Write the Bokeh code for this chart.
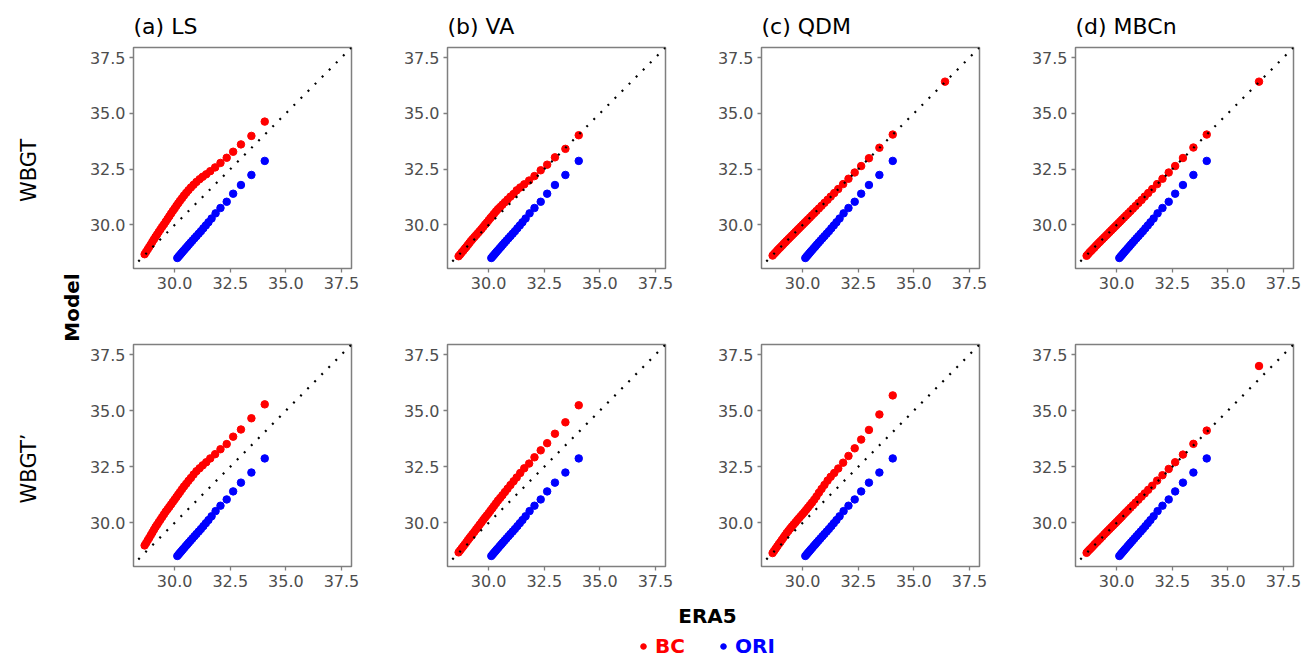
import math
from bokeh.plotting import figure
from bokeh.layouts import row, column
from bokeh.models import (Range1d, FixedTicker, PrintfTickFormatter, Slope, Label,
                          Legend, LegendItem)
from bokeh.embed import file_html
from bokeh.resources import INLINE

# ---------------- data ----------------
panel_titles = ["(a) LS", "(b) VA", "(c) QDM", "(d) MBCn"]
row_labels = ["WBGT", "WBGT\u2019"]
tick_values = [30.0, 32.5, 35.0, 37.5]

# ERA5 quantiles (x) used by the bias-corrected series
era5_bc = [28.65, 28.72, 28.79, 28.86, 28.93, 29.00, 29.07, 29.14, 29.21, 29.28,
           29.36, 29.44, 29.52, 29.60, 29.68, 29.76, 29.84, 29.92, 30.00, 30.08,
           30.16, 30.24, 30.33, 30.42, 30.52, 30.62, 30.73, 30.85, 30.98, 31.12,
           31.26, 31.42, 31.60, 31.82, 32.06, 32.34, 32.63, 32.98, 33.45, 34.05]
era5_ext = 36.40

# WBGT, bias corrected (BC)
bc_ls = [28.69, 28.80, 28.91, 29.02, 29.13, 29.25, 29.36, 29.47, 29.57, 29.68,
         29.80, 29.92, 30.03, 30.15, 30.27, 30.39, 30.51, 30.63, 30.74, 30.86,
         30.97, 31.08, 31.20, 31.32, 31.44, 31.56, 31.68, 31.80, 31.93, 32.05,
         32.16, 32.27, 32.41, 32.58, 32.78, 33.01, 33.28, 33.61, 33.99, 34.63]
bc_va = [28.60, 28.68, 28.77, 28.85, 28.94, 29.02, 29.11, 29.20, 29.29, 29.37,
         29.46, 29.55, 29.64, 29.73, 29.82, 29.92, 30.02, 30.11, 30.21, 30.31,
         30.40, 30.50, 30.61, 30.71, 30.81, 30.91, 31.02, 31.14, 31.27, 31.39,
         31.55, 31.68, 31.82, 31.99, 32.19, 32.45, 32.70, 33.03, 33.41, 34.02]
bc_qdm = [28.63, 28.71, 28.78, 28.86, 28.93, 29.00, 29.07, 29.15, 29.22, 29.29,
          29.37, 29.45, 29.53, 29.61, 29.69, 29.77, 29.85, 29.93, 30.01, 30.09,
          30.17, 30.25, 30.34, 30.43, 30.53, 30.63, 30.74, 30.86, 30.99, 31.13,
          31.27, 31.43, 31.61, 31.83, 32.07, 32.35, 32.64, 32.99, 33.46, 34.05]
bc_mbcn = [28.62, 28.70, 28.78, 28.85, 28.92, 28.99, 29.07, 29.14, 29.21, 29.28,
           29.36, 29.44, 29.52, 29.60, 29.68, 29.76, 29.84, 29.92, 30.00, 30.08,
           30.16, 30.24, 30.33, 30.42, 30.52, 30.62, 30.73, 30.85, 30.98, 31.12,
           31.27, 31.43, 31.61, 31.83, 32.07, 32.35, 32.64, 33.00, 33.47, 34.05]
bc_ext = [None, None, 36.42, 36.42]

# WBGT', bias corrected (BC)
bcp_ls = [28.99, 29.10, 29.22, 29.33, 29.45, 29.57, 29.69, 29.81, 29.91, 30.02,
          30.14, 30.26, 30.38, 30.50, 30.60, 30.71, 30.82, 30.93, 31.04, 31.15,
          31.26, 31.37, 31.50, 31.62, 31.74, 31.87, 32.00, 32.15, 32.30, 32.43,
          32.56, 32.70, 32.87, 33.06, 33.28, 33.51, 33.84, 34.16, 34.66, 35.28]
bcp_va = [28.68, 28.77, 28.86, 28.95, 29.04, 29.13, 29.23, 29.32, 29.41, 29.50,
          29.60, 29.71, 29.81, 29.92, 30.02, 30.13, 30.23, 30.33, 30.43, 30.54,
          30.64, 30.75, 30.87, 30.99, 31.11, 31.23, 31.37, 31.52, 31.68, 31.85,
          32.02, 32.22, 32.43, 32.64, 32.92, 33.23, 33.55, 33.97, 34.48, 35.24]
bcp_qdm = [28.65, 28.75, 28.85, 28.95, 29.05, 29.14, 29.24, 29.34, 29.44, 29.54,
           29.64, 29.74, 29.84, 29.93, 30.02, 30.12, 30.21, 30.30, 30.39, 30.48,
           30.58, 30.68, 30.79, 30.90, 31.03, 31.17, 31.34, 31.51, 31.69, 31.88,
           32.05, 32.22, 32.42, 32.68, 32.98, 33.32, 33.71, 34.14, 34.83, 35.68]
bcp_mbcn = [28.66, 28.74, 28.81, 28.88, 28.95, 29.03, 29.10, 29.17, 29.24, 29.31,
            29.39, 29.48, 29.56, 29.64, 29.72, 29.80, 29.88, 29.96, 30.04, 30.12,
            30.20, 30.28, 30.38, 30.47, 30.57, 30.67, 30.78, 30.90, 31.03, 31.17,
            31.31, 31.47, 31.65, 31.88, 32.12, 32.40, 32.70, 33.04, 33.52, 34.11]
bcp_ext = [None, None, None, 36.99]

# Original model (ORI), same in every panel
ori_x = [30.12, 30.18, 30.24, 30.30, 30.36, 30.43, 30.50, 30.57, 30.64, 30.72,
         30.80, 30.89, 30.98, 31.08, 31.18, 31.29, 31.40, 31.52, 31.66, 31.84,
         32.06, 32.34, 32.63, 32.98, 33.45, 34.05]
ori_y = [28.52, 28.59, 28.66, 28.73, 28.80, 28.88, 28.96, 29.04, 29.12, 29.21,
         29.30, 29.40, 29.50, 29.61, 29.72, 29.85, 29.98, 30.12, 30.29, 30.52,
         30.76, 31.04, 31.40, 31.79, 32.24, 32.87]

x_lim = (28.15, 37.95)
y_lim = (28.05, 37.95)

# ---------------- styling ----------------
FONT = "DejaVu Sans"
RED = "#ff0000"
BLUE = "#0000ff"
BORDER = "#7f7f7f"
TICKTXT = "#4d4d4d"

FRAME_W = 218
LEFT_STRIP_W = 85
B_LEFT = 48
B_RIGHT = 48
B_RIGHT_LAST = 12
TOTAL_H = 658

rows_bc = [[bc_ls, bc_va, bc_qdm, bc_mbcn], [bcp_ls, bcp_va, bcp_qdm, bcp_mbcn]]
rows_ext = [bc_ext, bcp_ext]
row_frame_h = [221, 222]
row_border_top = [47, 10]
row_border_bottom = [66, 30]


def make_panel(r, c):
    p = figure(frame_width=FRAME_W, frame_height=row_frame_h[r],
               x_range=Range1d(*x_lim), y_range=Range1d(*y_lim),
               output_backend="svg", toolbar_location=None,
               min_border_left=B_LEFT,
               min_border_right=(B_RIGHT_LAST if c == 3 else B_RIGHT),
               min_border_top=row_border_top[r],
               min_border_bottom=row_border_bottom[r],
               background_fill_color="white", border_fill_color="white")
    if r == 0:
        p.title.text = panel_titles[c]
        p.title.text_font = FONT
        p.title.text_font_size = "22px"
        p.title.text_font_style = "normal"
        p.title.text_color = "black"
        p.title.align = "left"
        p.title.vertical_align = "top"
        p.title.standoff = 14
    p.grid.visible = False
    p.outline_line_color = BORDER
    p.outline_line_width = 1.5
    for ax in (p.xaxis[0], p.yaxis[0]):
        ax.ticker = FixedTicker(ticks=tick_values)
        ax.formatter = PrintfTickFormatter(format="%.1f")
        ax.axis_line_color = None
        ax.major_tick_line_color = BORDER
        ax.major_tick_line_width = 1.3
        ax.major_tick_out = 4
        ax.major_tick_in = 0
        ax.minor_tick_line_color = None
        ax.major_label_text_font = FONT
        ax.major_label_text_font_size = "16px"
        ax.major_label_text_color = TICKTXT
        ax.major_label_standoff = 4

    p.scatter(ori_x, ori_y, size=7.5, fill_color=BLUE, line_color=BLUE)
    xs = list(era5_bc)
    ys = list(rows_bc[r][c])
    if rows_ext[r][c] is not None:
        xs.append(era5_ext)
        ys.append(rows_ext[r][c])
    p.scatter(xs, ys, size=7.5, fill_color=RED, line_color=RED)
    p.add_layout(Slope(gradient=1, y_intercept=0, line_color="black",
                       line_width=2.2, line_dash="2 8"))
    return p


panels = [[make_panel(r, c) for c in range(4)] for r in range(2)]

grid_h = sum(row_border_top[i] + row_frame_h[i] + row_border_bottom[i] for i in range(2))
total_w = LEFT_STRIP_W + 3 * (B_LEFT + FRAME_W + B_RIGHT) + (B_LEFT + FRAME_W + B_RIGHT_LAST)


def blank(w, h):
    f = figure(frame_width=w, frame_height=h, x_range=Range1d(0, w), y_range=Range1d(h, 0),
               output_backend="svg", toolbar_location=None, min_border=0,
               x_axis_location=None, y_axis_location=None,
               background_fill_color="white", border_fill_color="white")
    f.grid.visible = False
    f.outline_line_color = None
    return f


# left strip with row labels and the shared y title
left = blank(LEFT_STRIP_W, grid_h)
for lbl, ym in zip(row_labels, [170, 468]):
    left.add_layout(Label(x=28, y=ym, text=lbl, angle=math.pi / 2,
                          text_align="center", text_baseline="middle",
                          text_font=FONT, text_font_size="21px", text_color="black"))
left.add_layout(Label(x=71, y=307, text="Model", angle=math.pi / 2,
                      text_align="center", text_baseline="middle",
                      text_font=FONT, text_font_size="20px", text_font_style="bold",
                      text_color="black"))

# bottom strip with x title and legend; the legend keys come from the series'
# own glyphs, mapped onto a range that keeps them out of this strip's frame
BOTTOM_H = TOTAL_H - grid_h
bottom = blank(total_w, BOTTOM_H)
bottom.extra_x_ranges = {"keys": Range1d(100, 200)}
bottom.add_layout(Label(x=707, y=19, text="ERA5", text_align="center", text_baseline="middle",
                        text_font=FONT, text_font_size="20px", text_font_style="bold",
                        text_color="black"))
r_bc = bottom.scatter(era5_bc, bc_ls, x_range_name="keys", fill_color=RED, line_color=RED)
r_ori = bottom.scatter(ori_x, ori_y, x_range_name="keys", fill_color=BLUE, line_color=BLUE)
for name, rend, col, loc in [("BC", r_bc, RED, (636, 0)), ("ORI", r_ori, BLUE, (716, 0))]:
    lg = Legend(items=[LegendItem(label=name, renderers=[rend])], location=loc,
                orientation="horizontal", glyph_width=14, glyph_height=14,
                label_standoff=5, padding=0, margin=0, spacing=0,
                border_line_color=None, background_fill_alpha=0,
                label_text_font=FONT, label_text_font_style="bold",
                label_text_font_size="20px", label_text_color=col)
    bottom.add_layout(lg)

layout = column(row(left, column(row(*panels[0]), row(*panels[1]))), bottom)

open("out.html", "w").write(file_html(layout, INLINE, title="WBGT QQ"))
